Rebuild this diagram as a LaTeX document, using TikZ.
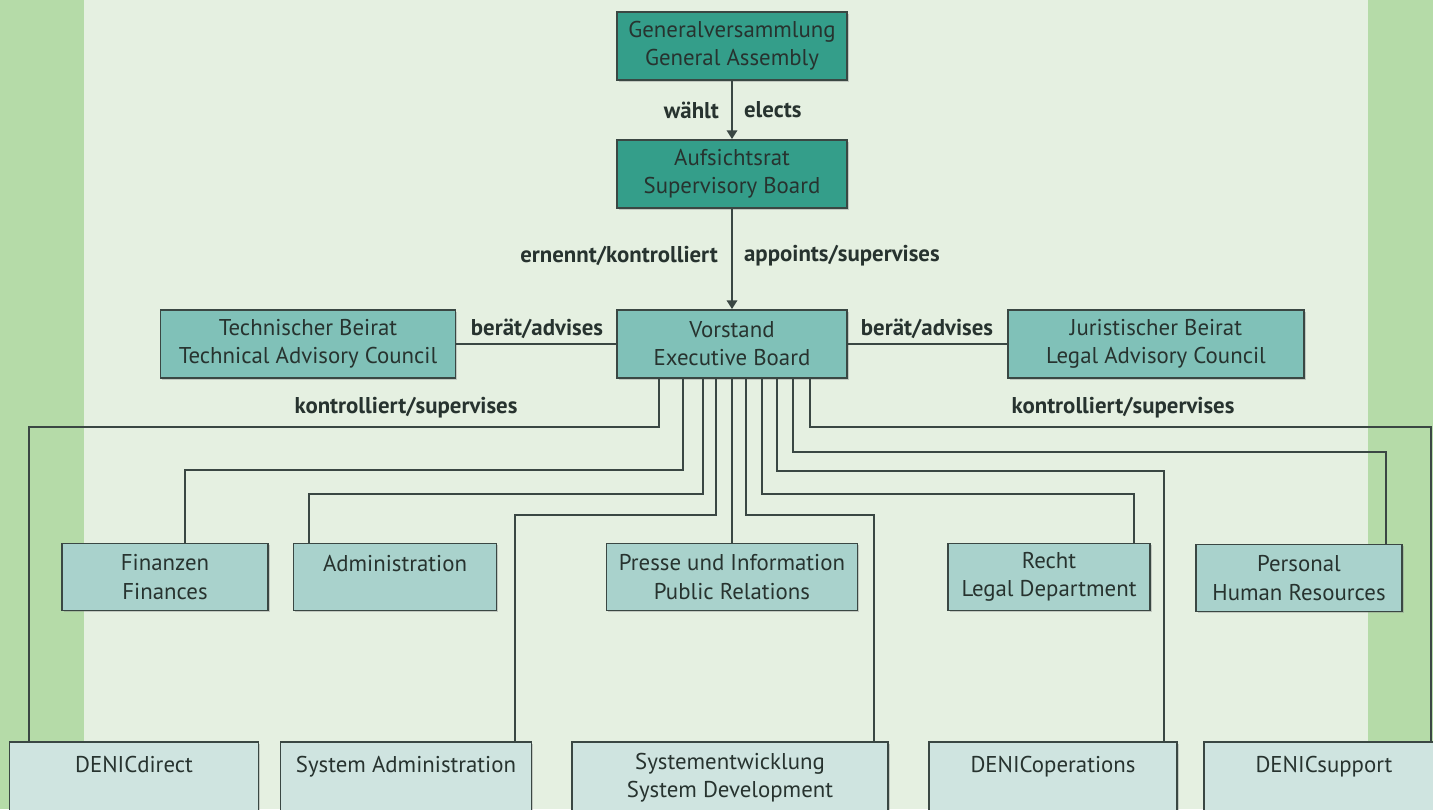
\documentclass[tikz,border=0pt]{standalone}
\usepackage{fontspec}
\setmainfont{PT Sans}
\usepackage{tikz}
\usetikzlibrary{arrows.meta,calc,shadows}

\definecolor{paper}{HTML}{E5F0E1}
\definecolor{stripe}{HTML}{B5DBA8}
\definecolor{edge}{HTML}{3A4743}
\definecolor{ink}{HTML}{27332F}
\definecolor{tealdark}{HTML}{349E8A}
\definecolor{tealmid}{HTML}{80C1B8}
\definecolor{teallight}{HTML}{A9D2CC}
\definecolor{tealpale}{HTML}{CFE4E0}

\tikzstyle{box} = [draw=edge, line width=1.1pt, align=center, text=ink, inner sep=2pt,
  font=\fontsize{13}{16}\selectfont,
  drop shadow={shadow xshift=1pt, shadow yshift=-1pt, opacity=0.35}]
\tikzstyle{board} = [box, fill=tealdark, minimum width=4.6cm, minimum height=1.36cm]
\tikzstyle{council} = [box, fill=tealmid, minimum height=1.36cm]
\tikzstyle{dept} = [box, fill=teallight, minimum height=1.34cm]
\tikzstyle{unit} = [box, fill=tealpale, minimum height=1.44cm]
\tikzstyle{link} = [draw=edge, line width=1.1pt]
\tikzstyle{arrow} = [link, -{Triangle[width=6pt,length=5pt]}]
\tikzstyle{lbl} = [text=ink, font=\fontsize{13}{15}\selectfont\bfseries, inner sep=1pt]

\begin{document}
\begin{tikzpicture}[x=0.02cm, y=-0.02cm]
	\path[use as bounding box, clip] (0,0) rectangle (1433,809);
	\fill[paper] (0,0) rectangle (1433,809);
	\fill[stripe] (0,0) rectangle (84,809);
	\fill[stripe] (1368,0) rectangle (1433,809);

	% top of the tree
	\node[board](assembly) at (732,46){Generalversammlung\\General Assembly};
	\node[board](supervisory) at (732,174){Aufsichtsrat\\Supervisory Board};
	\node[council, minimum width=4.6cm](executive) at (732,344){Vorstand\\Executive Board};
	\node[council, minimum width=5.9cm](techcouncil) at (308,344){Technischer Beirat\\Technical Advisory Council};
	\node[council, minimum width=5.92cm](legalcouncil) at (1156,344){Juristischer Beirat\\Legal Advisory Council};

	% departments
	\node[dept, minimum width=4.12cm](finance) at (165,577){Finanzen\\Finances};
	\node[dept, minimum width=4.06cm](admin) at (395,577){Administration\\~};
	\node[dept, minimum width=5.02cm](press) at (732,577){Presse und Information\\Public Relations};
	\node[dept, minimum width=4.04cm](legal) at (1049,577){Recht\\Legal Department};
	\node[dept, minimum width=4.12cm](personnel) at (1299,578){Personal\\Human Resources};

	% units
	\node[unit, minimum width=4.98cm](direct) at (134,778){DENICdirect\\~};
	\node[unit, minimum width=5.02cm](sysadmin) at (406,778){System Administration\\~};
	\node[unit, minimum width=6.32cm](sysdev) at (730,778){Systementwicklung\\System Development};
	\node[unit, minimum width=4.96cm](operations) at (1053,778){DENICoperations\\~};
	\node[unit, minimum width=4.8cm](support) at (1324,778){DENICsupport\\~};

	% labels
	\node[lbl, anchor=east](elects-de) at (721,110){wählt};
	\node[lbl, anchor=west](elects-en) at (742,110){elects};
	\node[lbl, anchor=east](appoints-de) at (720,256){ernennt/kontrolliert};
	\node[lbl, anchor=west](appoints-en) at (742,256){appoints/supervises};
	\node[lbl](advises-left) at (537,329){berät/advises};
	\node[lbl](advises-right) at (927,329){berät/advises};
	\node[lbl](supervises-left) at (406,408){kontrolliert/supervises};
	\node[lbl](supervises-right) at (1123,408){kontrolliert/supervises};

	\draw[arrow](assembly) -- (supervisory);
	\draw[arrow](supervisory) -- (executive);
	\draw[link](techcouncil) -- (executive);
	\draw[link](legalcouncil) -- (executive);

	% lines from the executive board
	\draw[link]($(executive.south)+(-73,0)$) -- ++(0,48) -| ($(direct.north west)+(20,0)$);
	\draw[link]($(executive.south)+(-49,0)$) -- ++(0,91) -| ($(finance.north)+(20,0)$);
	\draw[link]($(executive.south)+(-29,0)$) -- ++(0,115) -| ($(admin.north west)+(16,0)$);
	\draw[link]($(executive.south)+(-16,0)$) -- ++(0,136) -| ($(sysadmin.north east)+(-17,0)$);
	\draw[link](executive) -- (press);
	\draw[link]($(executive.south)+(14,0)$) -- ++(0,136) -| ($(sysdev.north east)+(-15,0)$);
	\draw[link]($(executive.south)+(30,0)$) -- ++(0,115) -| ($(legal.north east)+(-17,0)$);
	\draw[link]($(executive.south)+(45,0)$) -- ++(0,92) -| ($(operations.north east)+(-14,0)$);
	\draw[link]($(executive.south)+(61,0)$) -- ++(0,73) -| ($(personnel.north east)+(-17,0)$);
	\draw[link]($(executive.south)+(78,0)$) -- ++(0,48) -| ($(support.north east)+(-14,0)$);
\end{tikzpicture}
\end{document}
